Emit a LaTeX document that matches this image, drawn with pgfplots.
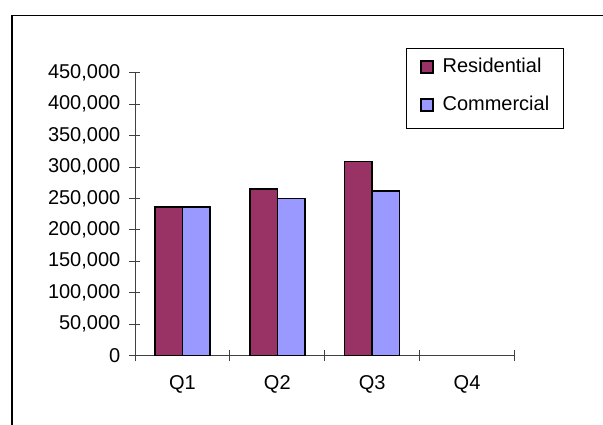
\documentclass[border=0pt]{standalone}
\usepackage{pgfplots}
\pgfplotsset{compat=1.18}
\usepackage{fontspec}
\setmainfont{Liberation Sans}
\definecolor{res}{HTML}{993366}
\definecolor{com}{HTML}{9999FF}
\definecolor{axgray}{HTML}{404040}
\begin{document}
\begin{tikzpicture}[x=1pt,y=1pt]
\path[use as bounding box] (0,0) rectangle (603,424);
\draw[line width=1.3pt] (12,-5) -- (12,408.7) -- (610,408.7);
\begin{axis}[
  at={(135pt,68.5pt)}, anchor=south west,
  scale only axis, width=379.5pt, height=282.8pt,
  xmin=-0.5, xmax=3.5, ymin=0, ymax=450000,
  axis lines=left,
  axis line style={-, draw=axgray, line width=0.9pt},
  ybar=0pt, bar width=27.5pt,
  xtick={0,1,2,3}, xticklabels={Q1,Q2,Q3,Q4},
  major x tick style={draw=none},
  minor xtick={-0.5,0.5,1.5,2.5,3.5},
  ytick={0,50000,...,450000},
  tick align=center,
  major tick length=11pt, minor tick length=11pt,
  every tick/.style={draw=axgray, line width=0.9pt},
  scaled y ticks=false,
  /pgf/number format/assume math mode=true,
  /pgf/number format/fixed,
  /pgf/number format/1000 sep={,},
  ticklabel style={font=\fontsize{20}{24}\selectfont},
  yticklabel style={anchor=east, inner sep=0pt, xshift=-9pt},
  xticklabel style={anchor=base, inner sep=0pt, yshift=-28.5pt},
  legend style={at={(0.714,1.087)}, anchor=north west, draw=black, line width=0.8pt,
    font=\fontsize{20}{24}\selectfont, inner xsep=14pt, inner ysep=9pt, row sep=14pt,
    nodes={inner sep=0pt, text height=15pt, text depth=9pt},
    /tikz/every odd column/.style={column sep=9pt}},
  legend cell align=left,
  legend image code/.code={\draw[#1, draw=black, line width=1.2pt] (0pt,-3.5pt) rectangle (12pt,8.5pt);},
]
\addplot[fill=res, draw=black, line width=1.6pt] coordinates {(0,236000) (1,265000) (2,309000)};
\addplot[fill=com, draw=black, line width=1.6pt] coordinates {(0,236000) (1,250000) (2,262000)};
\legend{Residential, Commercial}
\end{axis}
\end{tikzpicture}
\end{document}
